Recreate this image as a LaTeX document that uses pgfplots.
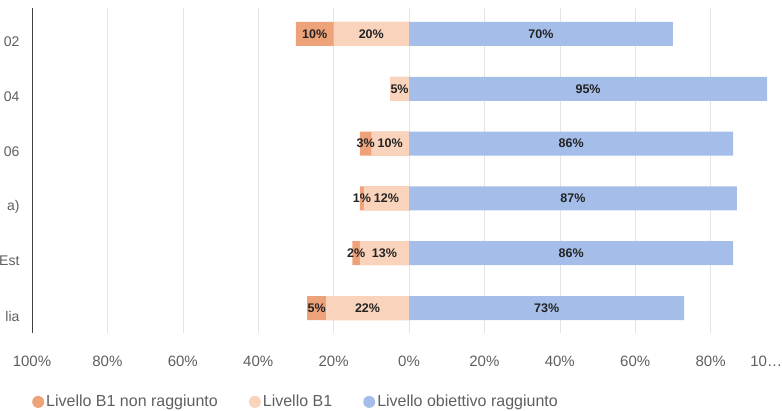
\documentclass[border=0pt]{standalone}
\usepackage{pgfplots}
\pgfplotsset{compat=1.18}
\usepackage{pgfplotstable}
\usepackage{fontspec}
\setmainfont{Liberation Sans}

\definecolor{nonragg}{RGB}{237,162,121}
\definecolor{livb}{RGB}{250,211,189}
\definecolor{obiet}{RGB}{164,190,233}
\definecolor{lbl}{RGB}{95,95,95}
\definecolor{gridc}{RGB}{228,228,228}
\definecolor{barlbl}{RGB}{35,35,35}

% y: riga (1 = in basso), nr = B1 non raggiunto, b1 = Livello B1, ob = obiettivo raggiunto
\pgfplotstableread{
y nr b1 ob
6 10 20 70
5 0 5 95
4 3 10 86
3 1 12 87
2 2 13 86
1 5 22 73
}\dati

\begin{document}
\begin{tikzpicture}
\useasboundingbox (0,0) rectangle (782pt,411pt);
\begin{axis}[
  at={(32pt,78pt)}, anchor=south west,
  scale only axis, width=754pt, height=325pt,
  xmin=-100, xmax=100, ymin=0.544, ymax=6.474,
  axis lines*=left,
  x axis line style={draw=none},
  y axis line style={draw=black!75, line width=0.8pt, -},
  major tick length=0pt,
  xtick={-100,-80,...,100},
  xticklabels={100\%,80\%,60\%,40\%,20\%,0\%,20\%,40\%,60\%,80\%,\hbox to 0pt{\hss 10…\kern4pt}},
  xticklabel style={font=\fontsize{15}{18}\selectfont, text=lbl, yshift=-19pt},
  ytick={1,...,6},
  yticklabels={lia,Est,a),06,04,02},
  yticklabel style={font=\fontsize{14}{17}\selectfont, text=lbl, xshift=-9pt, yshift=-8pt},
  xmajorgrids, major grid style={gridc, line width=0.6pt},
  /pgf/number format/assume math mode=true,
  circle legend/.style={legend image code/.code={\fill[##1] (6pt,0pt) circle (6pt);}},
  legend style={at={(axis description cs:0,-0.212)}, anchor=west, draw=none, fill=none,
    inner sep=0pt, legend columns=3, font=\fontsize{16}{19}\selectfont,
    nodes={text=lbl}, /tikz/every even column/.append style={column sep=29pt}},
  legend cell align=left,
  barlabel/.style={draw=none, mark=none, forget plot, point meta=explicit,
    nodes near coords={\pgfmathprintnumber{\pgfplotspointmeta}\%},
    every node near coord/.append style={anchor=center, inner sep=0pt,
      font=\bfseries\fontsize{12.5}{14}\selectfont, text=barlbl}},
]
% barre: la parte scura copre nr+b1, quella chiara b1 le sta sopra
\addplot[xbar, bar width=24pt, bar shift=0pt, fill=nonragg, draw=none, circle legend]
  table[x expr=-(\thisrow{nr}+\thisrow{b1}), y=y] {\dati};
\addplot[xbar, bar width=24pt, bar shift=0pt, fill=livb, draw=none, circle legend]
  table[x expr=-\thisrow{b1}, y=y] {\dati};
\addplot[xbar, bar width=24pt, bar shift=0pt, fill=obiet, draw=none, circle legend]
  table[x=ob, y=y] {\dati};
\legend{Livello B1 non raggiunto, Livello B1, Livello obiettivo raggiunto}

% etichette
\addplot[barlabel] table[x expr=-(\thisrow{b1}+0.5*\thisrow{nr}), y=y, meta=nr,
  skip coords between index={1}{2}] {\dati};
\addplot[barlabel] table[x expr=-0.5*\thisrow{b1}, y=y, meta=b1] {\dati};
\addplot[barlabel] table[x expr=0.5*\thisrow{ob}, y=y, meta=ob] {\dati};
\end{axis}
\end{tikzpicture}
\end{document}
